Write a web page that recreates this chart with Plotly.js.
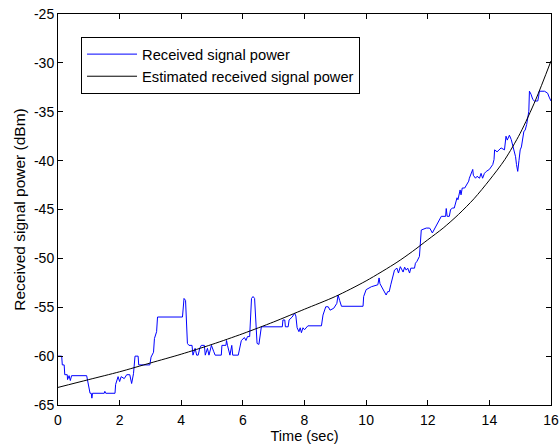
<!DOCTYPE html>
<html>
<head>
<meta charset="utf-8">
<script src="https://cdn.plot.ly/plotly-3.0.1.min.js"></script>
<style>html,body{margin:0;padding:0;background:#fff;}#chart{width:560px;height:447px;}</style>
</head>
<body>
<div id="chart"></div>
<script>
// Received signal power (blue)
const timeMeasured = [0,0.12,0.14,0.2,0.22,0.3,0.31,0.36,0.4,0.44,0.93,0.98,1.04,1.08,1.1,1.12,1.5,1.52,1.55,1.85,1.87,1.95,2.0,2.05,2.15,2.23,2.33,2.39,2.45,2.5,2.6,2.62,2.98,3.02,3.1,3.13,3.2,3.23,4.04,4.09,4.14,4.2,4.25,4.35,4.38,4.45,4.5,4.55,4.58,4.6,4.65,4.75,4.78,4.85,4.9,4.98,5.05,5.1,5.3,5.32,5.45,5.47,5.5,5.58,5.64,5.67,5.85,5.9,5.95,6.05,6.1,6.15,6.22,6.28,6.33,6.38,6.42,6.46,6.52,6.57,6.6,7.28,7.3,7.36,7.38,7.47,7.5,7.6,7.63,7.68,7.72,7.76,7.82,7.86,7.9,7.95,8.0,8.11,8.55,8.6,8.69,8.77,8.83,8.95,9.05,9.09,9.14,9.2,9.9,9.92,10.0,10.05,10.17,10.38,10.42,10.45,10.5,10.6,10.65,10.7,10.75,10.8,10.85,10.88,10.92,11.0,11.05,11.11,11.2,11.25,11.3,11.35,11.41,11.45,11.57,11.6,11.65,11.73,11.79,11.95,12.06,12.1,12.15,12.2,12.28,12.36,12.4,12.44,12.58,12.6,12.63,12.7,12.74,12.81,12.86,12.9,12.95,12.98,13.05,13.08,13.12,13.2,13.25,13.33,13.35,13.46,13.48,13.55,13.6,13.68,13.73,13.78,13.84,13.9,14.0,14.05,14.11,14.15,14.17,14.25,14.33,14.38,14.49,14.54,14.58,14.65,14.71,14.76,14.8,14.85,14.88,14.92,14.96,15.0,15.04,15.08,15.12,15.16,15.21,15.28,15.3,15.35,15.41,15.46,15.57,15.6,15.62,15.79,15.89,15.94,16.0];
const powerMeasured = [-60,-60,-60.9,-60.9,-61.9,-61.9,-62.4,-62.0,-62.5,-62.0,-62.0,-62.8,-63.8,-63.8,-64.3,-63.8,-63.8,-63.6,-63.8,-63.8,-62.9,-62.1,-62.6,-62.1,-62.3,-61.9,-61.9,-62.8,-61.8,-60.0,-60.0,-60.9,-60.9,-60.1,-59.6,-58.2,-57.5,-56.0,-56.0,-54.1,-54.3,-58.7,-58.9,-58.9,-59.9,-59.2,-59.9,-59.9,-59.2,-59.2,-58.9,-58.9,-59.9,-59.2,-59.9,-58.9,-59.5,-59.9,-59.9,-58.9,-58.9,-58.4,-58.9,-59.9,-58.9,-59.9,-59.9,-59.1,-58.4,-58.1,-58.4,-58.0,-58.0,-54.1,-53.9,-54.1,-57.3,-58.7,-58.8,-57.4,-57.0,-57.0,-56.3,-56.3,-57.0,-57.0,-56.3,-56.0,-55.8,-55.6,-55.9,-57.1,-57.5,-57.1,-57.6,-57.1,-57.3,-56.9,-56.9,-55.8,-54.95,-54.95,-55.3,-55.1,-54.6,-53.75,-54.3,-54.9,-54.9,-53.9,-53.2,-53.1,-52.9,-52.7,-52.0,-52.6,-52.9,-53.4,-53.75,-53.4,-53.4,-52.7,-52.0,-51.7,-51.2,-51.0,-51.5,-50.85,-51.4,-50.9,-51.2,-51.0,-51.5,-51.0,-51.0,-50.5,-50.3,-49.8,-47.1,-46.9,-46.9,-47.1,-47.4,-47.1,-46.6,-46.1,-45.9,-45.7,-45.7,-44.9,-45.7,-45.7,-45.0,-44.85,-44.85,-44.3,-43.8,-44.0,-43.0,-43.5,-42.8,-42.8,-42.5,-42.1,-41.8,-40.9,-41.5,-41.8,-41.6,-41.8,-41.3,-41.8,-41.3,-41.1,-40.9,-40.7,-40.4,-39.9,-38.9,-39.1,-38.9,-38.7,-38.9,-37.5,-37.9,-37.4,-37.85,-38.4,-38.9,-39.6,-40.4,-41.1,-40.0,-38.9,-38.6,-37.85,-37.0,-36.9,-36.3,-34.95,-32.9,-33.2,-33.75,-33.9,-33.9,-33.4,-32.9,-32.9,-33.1,-33.5,-33.9];

// Estimated received signal power (black)
const timeEstimated = [0,1,2,3,4,5,6,7,8,9,10,11,11.5,12,12.5,13,13.5,14,14.5,15,15.5,16];
const powerEstimated = [-63.2,-62.4,-61.6,-60.7,-59.8,-58.8,-57.7,-56.5,-55.2,-53.9,-52.3,-50.4,-49.3,-48.1,-46.9,-45.5,-43.9,-42.0,-39.9,-37.2,-33.8,-29.8];

const seriesNames = ['Received signal power','Estimated received signal power'];
const xTicks = [0,2,4,6,8,10,12,14,16];
const yTicks = [-65,-60,-55,-50,-45,-40,-35,-30,-25];

const traces = [
  {x: timeMeasured, y: powerMeasured, type: 'scatter', mode: 'lines', name: seriesNames[0],
   legendgroup: 'a', line: {color: '#0000ff', width: 1}},
  {x: timeEstimated, y: powerEstimated, type: 'scatter', mode: 'lines', name: seriesNames[1],
   legendgroup: 'b', line: {color: '#000000', width: 1, shape: 'spline', smoothing: 0.8}}
];

const FONT = 'Liberation Sans, Arial, sans-serif';
const axisCommon = {
  showgrid: false, zeroline: false, showline: true, linecolor: '#000', linewidth: 1,
  mirror: 'ticks', ticks: 'inside', ticklen: 5, tickcolor: '#000', tickwidth: 1,
  tickfont: {family: FONT, size: 14, color: '#000'}
};

const layout = {
  width: 560, height: 447,
  margin: {l: 58, r: 9, t: 14, b: 42},
  paper_bgcolor: '#fff', plot_bgcolor: '#fff',
  font: {family: FONT, size: 14, color: '#000'},
  xaxis: Object.assign({}, axisCommon, {
    range: [0, 16], tickvals: xTicks, ticktext: xTicks.map(String), ticklabelstandoff: 2,
    title: {text: 'Time (sec)', standoff: 4, font: {family: FONT, size: 14.5}}
  }),
  yaxis: Object.assign({}, axisCommon, {
    range: [-65, -25], tickvals: yTicks, ticktext: yTicks.map(String),
    title: {text: 'Received signal power (dBm)', standoff: 4, font: {family: FONT, size: 15.5}}
  }),
  showlegend: true,
  legend: {
    x: 0.0467, y: 0.941, xanchor: 'left', yanchor: 'top',
    bordercolor: '#000', borderwidth: 1, bgcolor: '#fff',
    font: {family: FONT, size: 14.7, color: '#000'}, traceorder: 'grouped', tracegroupgap: 0,
    itemwidth: 50
  }
};

Plotly.newPlot('chart', traces, layout, {displayModeBar: false, staticPlot: true});
</script>
</body>
</html>
